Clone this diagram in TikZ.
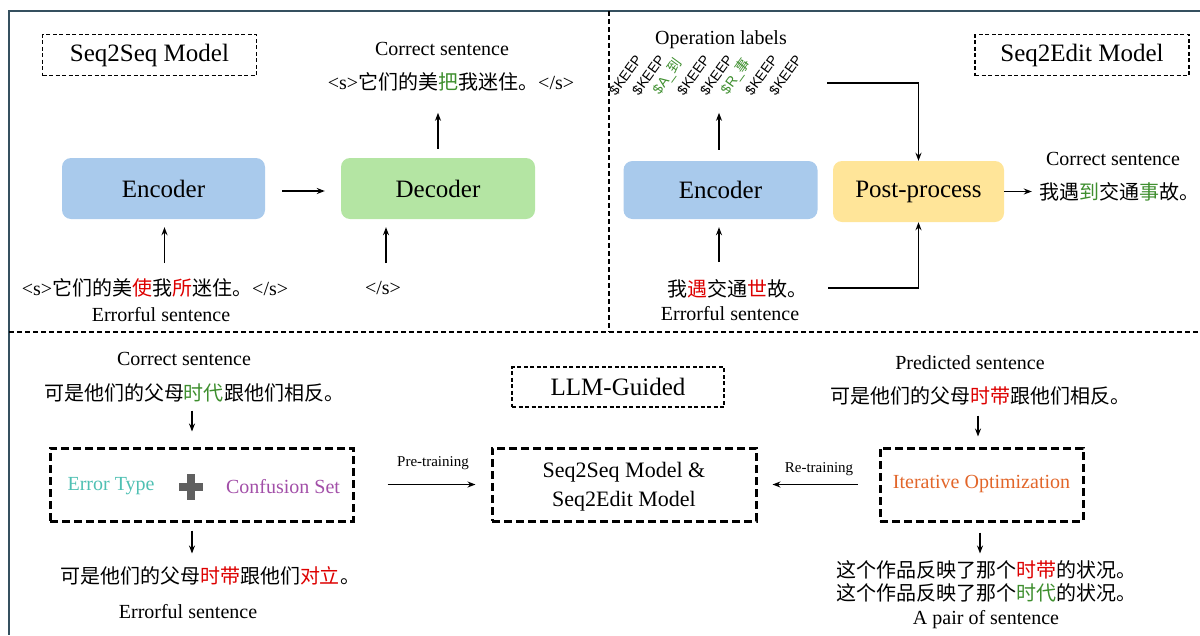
\documentclass[tikz,border=0pt]{standalone}
\usepackage{fontspec}
\setmainfont{Liberation Serif}
\newfontfamily\cjk{Noto Sans CJK SC}
\newfontfamily\lblfont{Liberation Sans}
\usetikzlibrary{arrows.meta,calc}

\definecolor{zred}{HTML}{DD0000}
\definecolor{zgreen}{HTML}{3E8E2E}
\definecolor{encblue}{HTML}{A9CAEC}
\definecolor{decgreen}{HTML}{B4E5A3}
\definecolor{postyellow}{HTML}{FFE599}
\definecolor{etcolor}{HTML}{4FC0B3}
\definecolor{cscolor}{HTML}{A24FA8}
\definecolor{itcolor}{HTML}{E2662A}
\definecolor{plusgray}{HTML}{606060}
\definecolor{framecol}{HTML}{35505F}

\newcommand\zh[1]{{\cjk #1}}
\newcommand\rd[1]{\textcolor{zred}{#1}}
\newcommand\gn[1]{\textcolor{zgreen}{#1}}

\tikzset{
  txt/.style={inner sep=0pt, font=\fontsize{20}{24}\selectfont},
  bigtxt/.style={inner sep=0pt, font=\fontsize{25}{30}\selectfont},
  smalltxt/.style={inner sep=0pt, font=\fontsize{15}{18}\selectfont},
  thinbox/.style={draw, line width=1.3pt, dash pattern=on 4pt off 2.5pt, bigtxt},
  thickbox/.style={draw, line width=3pt, dash pattern=on 8pt off 4pt, minimum height=73pt, inner sep=0pt},
  colbox/.style={rounded corners=9pt, bigtxt},
  arr/.style={line width=1.4pt, -{Stealth[length=8pt,width=6pt]}},
  divider/.style={line width=1.8pt, dash pattern=on 5pt off 3pt},
  frame/.style={line width=2pt, draw=framecol},
  oplbl/.style={inner sep=0pt, font=\lblfont\fontsize{14}{16}\selectfont, rotate=54, anchor=south west},
}

\begin{document}
\begin{tikzpicture}[x=1pt, y=-1pt]
\useasboundingbox (0,0) rectangle (1200,635);

% outer frame and panel dividers
\draw[frame] (8,11) -- (1200,11);
\draw[frame] (9,11) -- (9,635);
\draw[divider] (609,11) -- (609,332);
\draw[divider] (9,332) -- (1200,332);

% ---------- Seq2Seq panel ----------
\node[thinbox, minimum width=214pt, minimum height=41pt] (seqtitle) at (149.5,55) {Seq2Seq Model};
\node[txt] (outcap) at (442,49) {Correct sentence};
\node[txt] (outsent) at (451,82) {<s>\zh{它们的美\gn{把}我迷住。}</s>};
\node[colbox, fill=encblue, minimum width=203pt, minimum height=61pt] (enc) at (163.5,188.5) {Encoder};
\node[colbox, fill=decgreen, minimum width=194pt, minimum height=61pt] (dec) at (438,188.5) {Decoder};
\node[txt] (insent) at (155,288) {<s>\zh{它们的美\rd{使}我\rd{所}迷住。}</s>};
\node[txt] (decin) at (383,288) {</s>};
\node[txt] (incap) at (161,315) {Errorful sentence};

\draw[arr] ($(enc.south)+(1,44)$) -- ($(enc.south)+(1,8)$);
\draw[arr] ($(dec.south -| decin)+(3,44)$) -- ($(dec.south -| decin)+(3,8)$);
\draw[arr] ($(enc.east)+(17,2.5)$) -- ($(dec.west)+(-16,2.5)$);
\draw[arr] ($(dec.north)+(0,-9)$) -- ($(dec.north)+(0,-45)$);

% ---------- Seq2Edit panel ----------
\node[txt] (opcap) at (721,40) {Operation labels};
\node[oplbl] (op1) at (617,97) {\$KEEP};
\node[oplbl] (op2) at (640,97) {\$KEEP};
\node[oplbl, text=zgreen] (op3) at (662,97) {\$A\_\zh{到}};
\node[oplbl] (op4) at (685,97) {\$KEEP};
\node[oplbl] (op5) at (708,97) {\$KEEP};
\node[oplbl, text=zgreen] (op6) at (730,97) {\$R\_\zh{事}};
\node[oplbl] (op7) at (753,97) {\$KEEP};
\node[oplbl] (op8) at (777,97) {\$KEEP};

\node[thinbox, minimum width=214pt, minimum height=41pt] (edittitle) at (1082,55) {Seq2Edit Model};
\node[colbox, fill=encblue, minimum width=194pt, minimum height=58pt] (enc2) at (720.5,190) {Encoder};
\node[colbox, fill=postyellow, minimum width=171pt, minimum height=61pt] (post) at (918.5,191.5) {Post-process};
\node[txt] (out2cap) at (1113,159) {Correct sentence};
\node[txt] (out2) at (1119.5,192) {\zh{我遇\gn{到}交通\gn{事}故。}};
\node[txt] (in2) at (737,289) {\zh{我\rd{遇}交通\rd{世}故。}};
\node[txt] (in2cap) at (730,314) {Errorful sentence};
\coordinate (opend) at (827,83);
\coordinate (in2end) at (828,288);

\draw[arr] ($(enc2.south)+(-1.5,43)$) -- ($(enc2.south)+(-1.5,8)$);
\draw[arr] ($(enc2.north)+(-1.5,-11)$) -- ($(enc2.north)+(-1.5,-48)$);
\draw[arr] (opend) -| (post.north);
\draw[arr] (in2end) -| (post.south);
\draw[arr, shorten >=7.5pt] (post.east) -- (post.east -| out2.west);

% ---------- LLM-guided panel ----------
\node[thinbox, minimum width=212pt, minimum height=40pt] (llm) at (618,387) {LLM-Guided};
\node[txt] (c3cap) at (184,359) {Correct sentence};
\node[txt] (c3) at (194,393) {\zh{可是他们的父母\gn{时代}跟他们相反。}};
\node[thickbox, minimum width=303pt] (gen) at (201.5,484.5) {};
\node[txt, text=etcolor] (etype) at (111,486) {Error Type};
\node[inner sep=0pt, minimum size=26pt] (plus) at (191,487) {};
\fill[plusgray] ($(plus)+(-12,-4)$) rectangle ($(plus)+(12,4)$);
\fill[plusgray] ($(plus)+(-4,-13)$) rectangle ($(plus)+(4,13)$);
\node[txt, text=cscolor] (cset) at (283,487) {Confusion Set};
\node[txt] (e3) at (210,576) {\zh{可是他们的父母\rd{时带}跟他们\rd{对立}。}};
\node[txt] (e3cap) at (188,612) {Errorful sentence};

\node[smalltxt] (pretr) at (433,463) {Pre-training};
\node[thickbox, minimum width=264pt] (mid) at (624,484.5) {};
\node[inner sep=0pt, align=center, font=\fontsize{22}{29}\selectfont] (midtxt) at (624,487) {Seq2Seq Model \&\\Seq2Edit Model};
\node[smalltxt] (retr) at (819,469) {Re-training};

\node[txt] (p3cap) at (970,363) {Predicted sentence};
\node[txt] (p3) at (980,396) {\zh{可是他们的父母\rd{时带}跟他们相反。}};
\node[thickbox, minimum width=203pt, font=\fontsize{20}{24}\selectfont, text=itcolor] (iter) at (981.5,484.5) {Iterative Optimization};
\node[txt] (pair1) at (986,570) {\zh{这个作品反映了那个\rd{时带}的状况。}};
\node[txt] (pair2) at (986,593) {\zh{这个作品反映了那个\gn{时代}的状况。}};
\node[txt] (paircap) at (986,620) {A pair of sentence};

\draw[arr] ($(gen.north)+(-9.5,-36)$) -- ($(gen.north)+(-9.5,-15)$);
\draw[arr] ($(gen.south)+(-9.5,8)$) -- ($(gen.south)+(-9.5,31)$);
\draw[arr] ($(gen.east)+(33,0)$) -- ($(mid.west)+(-15,0)$);
\draw[arr] ($(iter.north)+(-3.5,-31)$) -- ($(iter.north)+(-3.5,-10)$);
\draw[arr] ($(iter.west)+(-21,0)$) -- ($(mid.east)+(15,0)$);
\draw[arr] ($(iter.south)+(-1.5,10)$) -- ($(iter.south)+(-1.5,31)$);
\end{tikzpicture}
\end{document}
